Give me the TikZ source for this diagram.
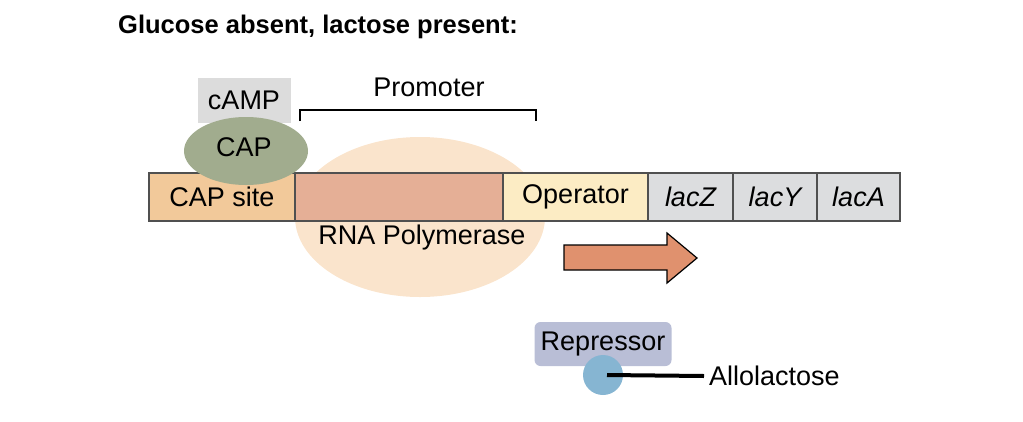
\documentclass[tikz,border=0pt]{standalone}
\usepackage{fontspec}
\setmainfont{Liberation Sans}
\usetikzlibrary{positioning,shapes.geometric}
\definecolor{capsitec}{HTML}{F2C99A}
\definecolor{promc}{HTML}{E5AF96}
\definecolor{operc}{HTML}{FCECC4}
\definecolor{genec}{HTML}{DCDDDF}
\definecolor{rnapc}{HTML}{FAE4CC}
\definecolor{capc}{HTML}{A1AC8E}
\definecolor{campc}{HTML}{DCDCDC}
\definecolor{arrowc}{HTML}{E0916E}
\definecolor{repc}{HTML}{B9BED6}
\definecolor{alloc}{HTML}{86B5D2}
\definecolor{edgec}{HTML}{505050}
\begin{document}
\begin{tikzpicture}[x=1pt, y=-1pt,
    every node/.style={font=\fontsize{27}{32}\selectfont, inner sep=3pt},
    seg/.style={draw=edgec, line width=1.3pt, minimum height=48pt, outer sep=0pt, inner sep=0pt},
    blob/.style={ellipse, inner sep=0pt}]
	\useasboundingbox (0,0) rectangle (1023,421);
	% titel
	\node[anchor=base west, font=\fontsize{25.5}{30}\selectfont\bfseries] (title) at (115,33) {Glucose absent, lactose present:};
	
	% RNA-Polymerase hinter dem DNA-Strang
	\node[blob, fill=rnapc, minimum width=250pt, minimum height=160pt] (rnap) at (420,217) {};
	
	% DNA-Abschnitte
	\node[seg, fill=capsitec, minimum width=146pt] (capsite) at (222,197) {CAP site};
	\node[seg, fill=promc, minimum width=208pt, right=0pt of capsite] (prom) {};
	\node[seg, fill=operc, minimum width=145pt, right=0pt of prom] (oper) {Operator};
	\node[seg, fill=genec, minimum width=85pt, right=0pt of oper] (lacz) {\itshape lacZ};
	\node[seg, fill=genec, minimum width=84pt, right=0pt of lacz] (lacy) {\itshape lacY};
	\node[seg, fill=genec, minimum width=83pt, right=0pt of lacy] (laca) {\itshape lacA};
	\node (rnaplab) at (422,238) {RNA Polymerase};
	
	% CAP mit cAMP
	\node[fill=campc, minimum width=93pt, minimum height=45pt, inner sep=0pt] (camp) at (244,100) {};
	\node[blob, fill=capc, minimum width=124pt, minimum height=68pt] (cap) at (246,151) {};
	\node at (camp) {cAMP};
	\node (caplab) at (244,147) {CAP};
	
	% Promotor-Klammer
	\coordinate (pl) at (300,121);
	\coordinate (pr) at (536,121);
	\draw[line width=1.2pt] (pl) -- ++(0,-11) -| (pr);
	\node (promlab) at (429,87) {Promoter};
	
	% Transkriptionspfeil
	\draw[line width=1.2pt, fill=arrowc] (564,245) -- (667,245) -- (667,233) -- (697,258)
	    -- (667,283) -- (667,270) -- (564,270) -- cycle;
	
	% Repressor mit Allolactose
	\node[fill=repc, rounded corners=6pt, minimum width=137pt, minimum height=44pt, inner sep=0pt] (rep) at (603,344) {Repressor};
	\node[circle, fill=alloc, minimum size=40pt, inner sep=0pt] (allo) at (603,375) {};
	\node[anchor=west] (allolab) at (706,376) {Allolactose};
	\draw[line width=4pt] ([xshift=4pt]allo.center) -- ([xshift=-2pt]allolab.west);
\end{tikzpicture}
\end{document}
